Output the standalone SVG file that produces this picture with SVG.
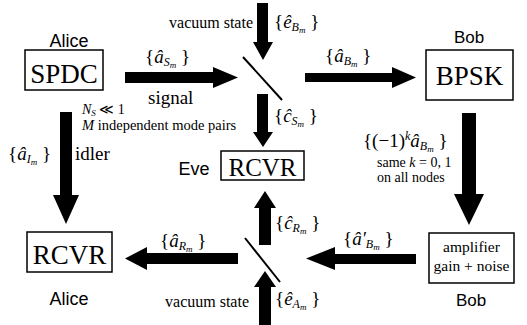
<svg xmlns="http://www.w3.org/2000/svg" width="527" height="325" viewBox="0 0 527 325">
<style>
.box{fill:#fff;stroke:#000;stroke-width:1.5}
.arr{fill:#000}
.bs{stroke:#000;stroke-width:2;fill:none}
.sans{font-family:"Liberation Sans",Arial,sans-serif;fill:#000}
.ser{font-family:"Liberation Serif","Times New Roman",serif;fill:#000}
.m{font-family:"Liberation Serif","Times New Roman",serif;font-size:19px;fill:#000}
.i{font-style:italic}
.s1{font-size:12px;font-style:italic}
.s2{font-size:9px;font-style:italic}
</style>
<rect width="527" height="325" fill="#fff"/>
<g id="connectors">
<polygon class="arr" points="125,72 213,72 213,67 238,77.5 213,88 213,83 125,83"/>
<polygon class="arr" points="305,73 392,73 392,67 416,77.5 392,88 392,82 305,82"/>
<polygon class="arr" points="257,3 268,3 268,42 273,42 263,60 253,42 257,42"/>
<polygon class="arr" points="257,94 268,94 268,132 273,132 263,147 253,132 257,132"/>
<polygon class="arr" points="259,245 271,245 271,208 276,208 265,191 254,208 259,208"/>
<polygon class="arr" points="259,325 271,325 271,287 276,287 265,271 254,287 259,287"/>
<polygon class="arr" points="238,253 147,253 147,247 125,258.5 147,270 147,264 238,264"/>
<polygon class="arr" points="416,254 335,254 335,247 306,258.5 335,270 335,264 416,264"/>
<polygon class="arr" points="60,112 72,112 72,195 79,195 66,224 53,195 60,195"/>
<polygon class="arr" points="462,113 476,113 476,194 484,194 469,225 454,194 462,194"/>
<line class="bs" x1="243" y1="57" x2="282" y2="100"/>
<line class="bs" x1="245" y1="238" x2="280" y2="282"/>
</g>
<g id="spdc">
<rect class="box" x="25" y="50" width="78" height="40"/>
<text class="ser" x="64" y="83" font-size="27" text-anchor="middle">SPDC</text>
<text class="sans" x="69" y="47" font-size="18" text-anchor="middle">Alice</text>
</g>
<g id="bpsk">
<rect class="box" x="426" y="50" width="87" height="50"/>
<text class="ser" x="469.5" y="85" font-size="27" text-anchor="middle">BPSK</text>
<text class="sans" x="469" y="43" font-size="17" text-anchor="middle">Bob</text>
</g>
<g id="eve">
<rect class="box" x="221" y="151" width="83" height="29"/>
<text class="ser" x="262.5" y="176" font-size="25" text-anchor="middle">RCVR</text>
<text class="sans" x="194" y="175" font-size="18" text-anchor="middle">Eve</text>
</g>
<g id="alice-rcvr">
<rect class="box" x="27" y="232" width="85" height="40"/>
<text class="ser" x="69.5" y="264" font-size="27" text-anchor="middle">RCVR</text>
<text class="sans" x="69" y="305" font-size="18" text-anchor="middle">Alice</text>
</g>
<g id="amplifier">
<rect class="box" x="429" y="233" width="85" height="50"/>
<text class="ser" x="471.5" y="252" font-size="15.5" text-anchor="middle">amplifier</text>
<text class="ser" x="471.5" y="271" font-size="15.5" text-anchor="middle">gain + noise</text>
<text class="sans" x="471" y="306" font-size="17" text-anchor="middle">Bob</text>
</g>
<g id="labels">
<text class="ser" x="253" y="28" font-size="16" text-anchor="end">vacuum state</text>
<text class="ser" x="249" y="307" font-size="16" text-anchor="end">vacuum state</text>
<text class="ser" x="148" y="104" font-size="19">signal</text>
<text class="ser" x="75" y="160" font-size="19">idler</text>
<text class="ser" x="82" y="114" font-size="14"><tspan class="i">N</tspan><tspan class="s2" dy="2">S</tspan><tspan dy="-2"> ≪ 1</tspan></text>
<text class="ser" x="82" y="130" font-size="14.5"><tspan class="i">M</tspan> independent mode pairs</text>
<text class="ser" x="377" y="167" font-size="14">same <tspan class="i">k</tspan> = 0, 1</text>
<text class="ser" x="377" y="182" font-size="14">on all nodes</text>
<text class="m" x="145" y="63">{<tspan class="i">â</tspan><tspan class="s1" dy="3">S</tspan><tspan class="s2" dy="2">m</tspan><tspan dy="-5"> }</tspan></text>
<text class="m" x="274" y="28">{<tspan class="i">ê</tspan><tspan class="s1" dy="3">B</tspan><tspan class="s2" dy="2">m</tspan><tspan dy="-5"> }</tspan></text>
<text class="m" x="325" y="62">{<tspan class="i">â</tspan><tspan class="s1" dy="3">B</tspan><tspan class="s2" dy="2">m</tspan><tspan dy="-5"> }</tspan></text>
<text class="m" x="274" y="122">{<tspan class="i">ĉ</tspan><tspan class="s1" dy="3">S</tspan><tspan class="s2" dy="2">m</tspan><tspan dy="-5"> }</tspan></text>
<text class="m" x="363" y="147">{(−1)<tspan font-size="12" class="i" dy="-7">k</tspan><tspan class="i" dy="7">â</tspan><tspan class="s1" dy="3">B</tspan><tspan class="s2" dy="2">m</tspan><tspan dy="-5"> }</tspan></text>
<text class="m" x="275" y="229">{<tspan class="i">ĉ</tspan><tspan class="s1" dy="3">R</tspan><tspan class="s2" dy="2">m</tspan><tspan dy="-5"> }</tspan></text>
<text class="m" x="343" y="245">{<tspan class="i">â′</tspan><tspan class="s1" dy="3">B</tspan><tspan class="s2" dy="2">m</tspan><tspan dy="-5"> }</tspan></text>
<text class="m" x="160" y="247">{<tspan class="i">â</tspan><tspan class="s1" dy="3">R</tspan><tspan class="s2" dy="2">m</tspan><tspan dy="-5"> }</tspan></text>
<text class="m" x="275" y="305">{<tspan class="i">ê</tspan><tspan class="s1" dy="3">A</tspan><tspan class="s2" dy="2">m</tspan><tspan dy="-5"> }</tspan></text>
<text class="m" x="8" y="160">{<tspan class="i">â</tspan><tspan class="s1" dy="3">I</tspan><tspan class="s2" dy="2">m</tspan><tspan dy="-5"> }</tspan></text>
</g>
</svg>
